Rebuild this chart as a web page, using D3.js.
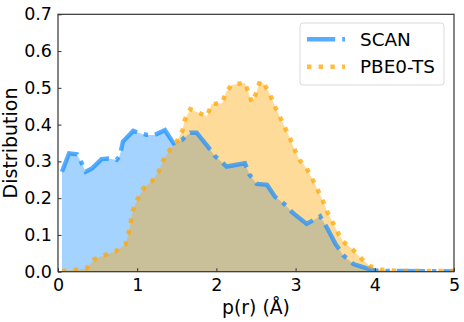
<!DOCTYPE html>
<html>
<head>
<meta charset="utf-8">
<script src="https://cdn.jsdelivr.net/npm/d3@7"></script>
<style>
  body { margin: 0; background: #fff; }
  text { font-family: "DejaVu Sans", sans-serif; }
</style>
</head>
<body>
<script>
// SCAN distribution (vertices)
var scanX = [0.05, 0.14, 0.24, 0.30, 0.35, 0.43, 0.55, 0.64, 0.74, 0.78, 0.82, 0.95, 1.04, 1.12, 1.22,
             1.35, 1.46, 1.56, 1.67, 1.75, 1.90, 1.98, 2.13, 2.36, 2.42, 2.51, 2.64, 2.74, 2.85, 2.97,
             3.14, 3.31, 3.39, 3.50, 3.60, 3.73, 3.90, 4.00, 4.20, 5.00];
var scanY = [0.272, 0.322, 0.319, 0.295, 0.272, 0.281, 0.306, 0.308, 0.304, 0.315, 0.354, 0.383, 0.376, 0.372, 0.372,
             0.385, 0.349, 0.358, 0.378, 0.378, 0.338, 0.315, 0.286, 0.295, 0.263, 0.239, 0.236, 0.204, 0.186, 0.159,
             0.130, 0.151, 0.122, 0.077, 0.045, 0.021, 0.009, 0.003, 0.002, 0.001];

// PBE0-TS distribution
var pbeX = [0.05, 0.21, 0.36, 0.46, 0.59, 0.73, 0.85, 0.89, 0.92, 0.95, 1.01, 1.08, 1.18, 1.27, 1.33,
            1.41, 1.50, 1.57, 1.60, 1.67, 1.79, 1.88, 1.94, 2.07, 2.12, 2.19, 2.36, 2.40, 2.45, 2.51,
            2.55, 2.61, 2.68, 2.74, 2.80, 2.87, 2.93, 2.99, 3.05, 3.14, 3.22, 3.29, 3.35, 3.40, 3.47,
            3.54, 3.60, 3.72, 3.82, 3.94, 4.07, 4.30, 5.00];
var pbeY = [0.002, 0.005, 0.009, 0.034, 0.045, 0.056, 0.074, 0.104, 0.138, 0.170, 0.200, 0.227, 0.245, 0.272, 0.304,
            0.331, 0.355, 0.383, 0.413, 0.442, 0.431, 0.423, 0.456, 0.458, 0.487, 0.508, 0.514, 0.490, 0.460, 0.490,
            0.519, 0.508, 0.481, 0.449, 0.422, 0.390, 0.363, 0.331, 0.304, 0.281, 0.249, 0.218, 0.190, 0.163, 0.134,
            0.104, 0.082, 0.061, 0.038, 0.015, 0.006, 0.002, 0.002];

var xTicks = [0, 1, 2, 3, 4, 5];
var yTicks = [0.0, 0.1, 0.2, 0.3, 0.4, 0.5, 0.6, 0.7];
var seriesNames = ["SCAN", "PBE0-TS"];

var width = 464, height = 322;
var margin = {left: 58, top: 14.3, right: 10, bottom: 50.3};
var iw = width - margin.left - margin.right;
var ih = height - margin.top - margin.bottom;

var svg = d3.select("body")
    .append("svg")
    .attr("width", width)
    .attr("height", height);

var x = d3.scaleLinear().domain([0, 5]).range([0, iw]);
var y = d3.scaleLinear().domain([0, 0.7]).range([ih, 0]);

var g = svg.append("g")
    .attr("transform", "translate(" + margin.left + "," + margin.top + ")");

g.append("clipPath").attr("id", "clip")
  .append("rect").attr("width", iw).attr("height", ih);

var scan = scanX.map(function(d, i) { return [d, scanY[i]]; });
var pbe = pbeX.map(function(d, i) { return [d, pbeY[i]]; });

var area = d3.area()
    .x(function(d) { return x(d[0]); })
    .y0(y(0))
    .y1(function(d) { return y(d[1]); });
var line = d3.line()
    .x(function(d) { return x(d[0]); })
    .y(function(d) { return y(d[1]); });

var plot = g.append("g").attr("clip-path", "url(#clip)");

// fills
plot.append("path").datum(scan)
  .attr("d", area)
  .attr("fill", "#1e90ff")
  .attr("fill-opacity", 0.4);
plot.append("path").datum(pbe)
  .attr("d", area)
  .attr("fill", "#ffa500")
  .attr("fill-opacity", 0.4);

// lines
var blueDash = "28.2,7,4.4,7";
var orangeDot = "4.4,7.3";
plot.append("path").datum(scan)
  .attr("d", line)
  .attr("fill", "none")
  .attr("stroke", "#1e90ff")
  .attr("stroke-opacity", 0.75)
  .attr("stroke-width", 4.4)
  .attr("stroke-dasharray", blueDash);
plot.append("path").datum(pbe)
  .attr("d", line)
  .attr("fill", "none")
  .attr("stroke", "#ffa500")
  .attr("stroke-opacity", 0.75)
  .attr("stroke-width", 4.4)
  .attr("stroke-dasharray", orangeDot);

// axes with inward ticks
var xAxis = g.append("g")
    .attr("transform", "translate(0," + ih + ")")
    .call(d3.axisBottom(x).tickValues(xTicks).tickFormat(d3.format("d")).tickSizeInner(-3.5).tickSizeOuter(0).tickPadding(7));
var yAxis = g.append("g")
    .call(d3.axisLeft(y).tickValues(yTicks).tickFormat(d3.format(".1f")).tickSizeInner(-3.5).tickSizeOuter(0).tickPadding(6));

[xAxis, yAxis].forEach(function(a) {
  a.select(".domain").remove();
  a.selectAll("line").attr("stroke", "#333").attr("stroke-width", 1);
  a.selectAll("text").attr("font-size", "17.5px").attr("fill", "#000")
    .attr("font-family", "DejaVu Sans, sans-serif");
});

// frame
g.append("rect")
  .attr("width", iw)
  .attr("height", ih)
  .attr("fill", "none")
  .attr("stroke", "#333")
  .attr("stroke-width", 1.2);

// axis labels
svg.append("text")
  .attr("x", margin.left + iw / 2)
  .attr("y", 314)
  .attr("text-anchor", "middle")
  .attr("font-size", "18.8px")
  .text("p(r) (Å)");
svg.append("text")
  .attr("transform", "translate(17," + (margin.top + ih / 2) + ") rotate(-90)")
  .attr("text-anchor", "middle")
  .attr("font-size", "19px")
  .text("Distribution");

// legend
var lg = svg.append("g").attr("transform", "translate(300,23)");
lg.append("rect")
  .attr("width", 144)
  .attr("height", 62)
  .attr("rx", 3)
  .attr("fill", "#fff")
  .attr("fill-opacity", 0.8)
  .attr("stroke", "#d9d9d9")
  .attr("stroke-width", 1);
var styles = [
  {c: "#1e90ff", dash: blueDash},
  {c: "#ffa500", dash: orangeDot}
];
seriesNames.forEach(function(name, i) {
  var yy = 16.3 + i * 27.4;
  lg.append("line")
    .attr("x1", 7).attr("x2", 45)
    .attr("y1", yy).attr("y2", yy)
    .attr("stroke", styles[i].c)
    .attr("stroke-opacity", 0.75)
    .attr("stroke-width", 4.4)
    .attr("stroke-dasharray", styles[i].dash);
  lg.append("text")
    .attr("x", 60)
    .attr("y", yy + 6.7)
    .attr("font-size", "18.4px")
    .text(name);
});
</script>
</body>
</html>
